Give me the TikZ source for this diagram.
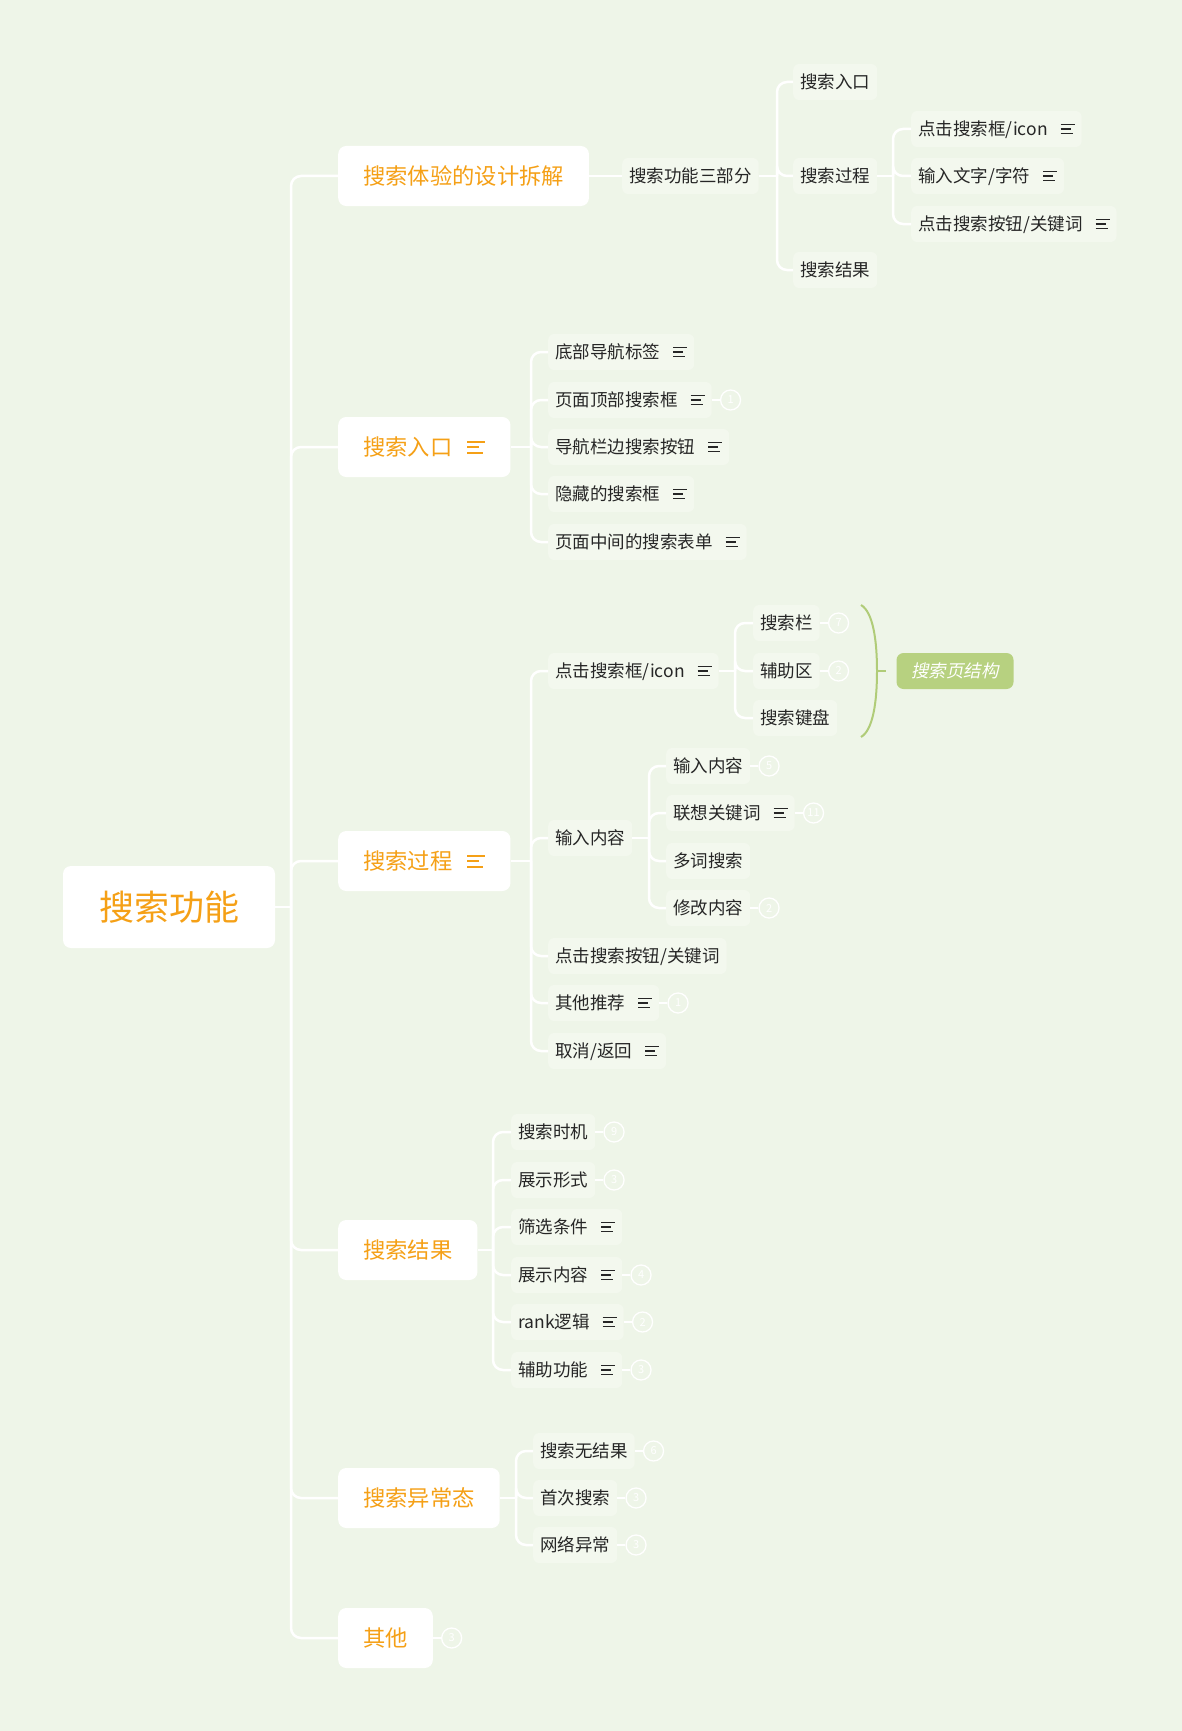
\documentclass[tikz,border=0pt]{standalone}
\usepackage{fontspec}
\setmainfont{Noto Sans CJK SC}
\newfontfamily\slantcjk[FakeSlant=0.2]{Noto Sans CJK SC}
\usetikzlibrary{positioning}

\definecolor{bgcol}{RGB}{238,245,232}
\definecolor{topiccol}{RGB}{245,160,22}
\definecolor{leafcol}{RGB}{243,248,238}
\definecolor{inkcol}{RGB}{38,38,38}
\definecolor{bracecol}{RGB}{176,204,120}
\definecolor{sumcol}{RGB}{183,209,128}

\newcommand{\noteicon}{\hspace{13pt}\raisebox{1.4pt}{\vbox{\hrule width 14pt height 1.4pt \vskip 3pt \hrule width 10pt height 1.4pt \vskip 3pt \hrule width 12pt height 1.4pt}}}
\newcommand{\bignoteicon}{\hspace{15pt}\raisebox{1.6pt}{\vbox{\hrule width 18pt height 2pt \vskip 3.5pt \hrule width 12pt height 2pt \vskip 3.5pt \hrule width 16pt height 2pt}}}

\tikzset{
    rootbox/.style={fill=white, rounded corners=8pt, text=topiccol, font=\fontsize{35}{40}\selectfont,
        minimum width=212pt, minimum height=82pt, inner sep=0pt, text height=30.8pt, text depth=4.2pt},
    topic/.style={anchor=west, fill=white, rounded corners=8pt, text=topiccol, font=\fontsize{22.3}{26}\selectfont,
        minimum height=60pt, inner xsep=25pt, inner ysep=0pt, text height=19.6pt, text depth=2.7pt},
    leaf/.style={anchor=west, fill=leafcol, rounded corners=6pt, text=inkcol, font=\fontsize{17.5}{20}\selectfont,
        minimum height=36pt, inner xsep=7pt, inner ysep=0pt, text height=15.4pt, text depth=2.1pt},
    num/.style={circle, draw=white, text=white, line width=1.3pt, minimum size=20pt, inner sep=0pt,
        font=\fontsize{11}{12}\selectfont},
    summary/.style={fill=sumcol, rounded corners=7pt, text=white, font=\fontsize{17.5}{20}\slantcjk,
        minimum width=117pt, minimum height=36pt, inner sep=0pt, text height=15.4pt, text depth=2.1pt},
    branch/.style={draw=white, line width=2.5pt, rounded corners=10pt},
    tick/.style={draw=white, line width=1.5pt}
}

\begin{document}
\begin{tikzpicture}[x=1pt, y=-1pt]
        \useasboundingbox (0,0) rectangle (1182,1731);
        \fill[bgcol] (0,0) rectangle (1182,1731);

        \node[rootbox] (root) at (169,907) {搜索功能};
        \coordinate (trunk) at (291,907);

        \node[topic] (m1) at (338,176) {搜索体验的设计拆解};
        \node[topic] (m2) at (338,447) {搜索入口\bignoteicon};
        \node[topic] (m3) at (338,861) {搜索过程\bignoteicon};
        \node[topic] (m4) at (338,1250) {搜索结果};
        \node[topic] (m5) at (338,1498) {搜索异常态};
        \node[topic] (m6) at (338,1638) {其他};
        \node[num, right=8pt of m6] (m6n) {3};

        \draw[branch] (root.east) -- (trunk);
        \draw[branch] (trunk) |- (m1.west);
        \draw[branch] (trunk) |- (m2.west);
        \draw[branch] (trunk) |- (m3.west);
        \draw[branch] (trunk) |- (m4.west);
        \draw[branch] (trunk) |- (m5.west);
        \draw[branch] (trunk) |- (m6.west);
        \draw[tick] (m6.east) -- (m6n.west);

        % 搜索体验的设计拆解
        \node[leaf] (b1) at (622,176) {搜索功能三部分};
        \coordinate (s1) at (777,176);
        \node[leaf] (b11) at (793,82) {搜索入口};
        \node[leaf] (b12) at (793,176) {搜索过程};
        \node[leaf] (b13) at (793,270) {搜索结果};
        \coordinate (s12) at (893,176);
        \node[leaf] (b121) at (911,129) {点击搜索框/icon\noteicon};
        \node[leaf] (b122) at (911,176) {输入文字/字符\noteicon};
        \node[leaf] (b123) at (911,224) {点击搜索按钮/关键词\noteicon};

        \draw[branch] (m1.east) -- (b1.west);
        \draw[branch] (b1.east) -- (s1);
        \draw[branch] (s1) |- (b11.west);
        \draw[branch] (s1) |- (b12.west);
        \draw[branch] (s1) |- (b13.west);
        \draw[branch] (b12.east) -- (s12);
        \draw[branch] (s12) |- (b121.west);
        \draw[branch] (s12) |- (b122.west);
        \draw[branch] (s12) |- (b123.west);

        % 搜索入口
        \coordinate (s2) at (531,447);
        \node[leaf] (c21) at (548,352) {底部导航标签\noteicon};
        \node[leaf] (c22) at (548,400) {页面顶部搜索框\noteicon};
        \node[leaf] (c23) at (548,447) {导航栏边搜索按钮\noteicon};
        \node[leaf] (c24) at (548,494) {隐藏的搜索框\noteicon};
        \node[leaf] (c25) at (548,542) {页面中间的搜索表单\noteicon};
        \node[num, right=8pt of c22] (c22n) {1};

        \draw[branch] (m2.east) -- (s2);
        \draw[branch] (s2) |- (c21.west);
        \draw[branch] (s2) |- (c22.west);
        \draw[branch] (s2) |- (c23.west);
        \draw[branch] (s2) |- (c24.west);
        \draw[branch] (s2) |- (c25.west);
        \draw[tick] (c22.east) -- (c22n.west);

        % 搜索过程
        \coordinate (s3) at (531,861);
        \node[leaf] (c31) at (548,671) {点击搜索框/icon\noteicon};
        \node[leaf] (c32) at (548,838) {输入内容};
        \node[leaf] (c33) at (548,956) {点击搜索按钮/关键词};
        \node[leaf] (c34) at (548,1003) {其他推荐\noteicon};
        \node[leaf] (c35) at (548,1051) {取消/返回\noteicon};
        \node[num, right=8pt of c34] (c34n) {1};

        \coordinate (s31) at (735,671);
        \node[leaf] (c311) at (753,623) {搜索栏};
        \node[leaf] (c312) at (753,671) {辅助区};
        \node[leaf] (c313) at (753,718) {搜索键盘};
        \node[num, right=8pt of c311] (c311n) {7};
        \node[num, right=8pt of c312] (c312n) {2};

        \coordinate (s32) at (649,838);
        \node[leaf] (c321) at (666,766) {输入内容};
        \node[leaf] (c322) at (666,813) {联想关键词\noteicon};
        \node[leaf] (c323) at (666,861) {多词搜索};
        \node[leaf] (c324) at (666,908) {修改内容};
        \node[num, right=8pt of c321] (c321n) {5};
        \node[num, right=8pt of c322] (c322n) {11};
        \node[num, right=8pt of c324] (c324n) {2};

        \draw[branch] (m3.east) -- (s3);
        \draw[branch] (s3) |- (c31.west);
        \draw[branch] (s3) |- (c32.west);
        \draw[branch] (s3) |- (c33.west);
        \draw[branch] (s3) |- (c34.west);
        \draw[branch] (s3) |- (c35.west);
        \draw[tick] (c34.east) -- (c34n.west);
        \draw[branch] (c31.east) -- (s31);
        \draw[branch] (s31) |- (c311.west);
        \draw[branch] (s31) |- (c312.west);
        \draw[branch] (s31) |- (c313.west);
        \draw[tick] (c311.east) -- (c311n.west);
        \draw[tick] (c312.east) -- (c312n.west);
        \draw[branch] (c32.east) -- (s32);
        \draw[branch] (s32) |- (c321.west);
        \draw[branch] (s32) |- (c322.west);
        \draw[branch] (s32) |- (c323.west);
        \draw[branch] (s32) |- (c324.west);
        \draw[tick] (c321.east) -- (c321n.west);
        \draw[tick] (c322.east) -- (c322n.west);
        \draw[tick] (c324.east) -- (c324n.west);

        \coordinate (bracetop) at (861,605);
        \coordinate (bracetip) at (877,671);
        \coordinate (bracebot) at (861,737);
        \coordinate (braceend) at (886,671);
        \draw[bracecol, line width=2pt] (bracetop) .. controls (873,612) and (877,640) .. (bracetip)
            .. controls (877,702) and (873,730) .. (bracebot);
        \draw[bracecol, line width=2pt] (bracetip) -- (braceend);
        \node[summary] (sum) at (955,671) {搜索页结构};

        % 搜索结果
        \coordinate (s4) at (493,1250);
        \node[leaf] (c41) at (511,1132) {搜索时机};
        \node[leaf] (c42) at (511,1180) {展示形式};
        \node[leaf] (c43) at (511,1227) {筛选条件\noteicon};
        \node[leaf] (c44) at (511,1275) {展示内容\noteicon};
        \node[leaf] (c45) at (511,1322) {rank逻辑\noteicon};
        \node[leaf] (c46) at (511,1370) {辅助功能\noteicon};
        \node[num, right=8pt of c41] (c41n) {9};
        \node[num, right=8pt of c42] (c42n) {3};
        \node[num, right=8pt of c44] (c44n) {4};
        \node[num, right=8pt of c45] (c45n) {2};
        \node[num, right=8pt of c46] (c46n) {3};

        \draw[branch] (m4.east) -- (s4);
        \draw[branch] (s4) |- (c41.west);
        \draw[branch] (s4) |- (c42.west);
        \draw[branch] (s4) |- (c43.west);
        \draw[branch] (s4) |- (c44.west);
        \draw[branch] (s4) |- (c45.west);
        \draw[branch] (s4) |- (c46.west);
        \draw[tick] (c41.east) -- (c41n.west);
        \draw[tick] (c42.east) -- (c42n.west);
        \draw[tick] (c44.east) -- (c44n.west);
        \draw[tick] (c45.east) -- (c45n.west);
        \draw[tick] (c46.east) -- (c46n.west);

        % 搜索异常态
        \coordinate (s5) at (516,1498);
        \node[leaf] (c51) at (533,1451) {搜索无结果};
        \node[leaf] (c52) at (533,1498) {首次搜索};
        \node[leaf] (c53) at (533,1545) {网络异常};
        \node[num, right=8pt of c51] (c51n) {6};
        \node[num, right=8pt of c52] (c52n) {3};
        \node[num, right=8pt of c53] (c53n) {3};

        \draw[branch] (m5.east) -- (s5);
        \draw[branch] (s5) |- (c51.west);
        \draw[branch] (s5) |- (c52.west);
        \draw[branch] (s5) |- (c53.west);
        \draw[tick] (c51.east) -- (c51n.west);
        \draw[tick] (c52.east) -- (c52n.west);
        \draw[tick] (c53.east) -- (c53n.west);

    \end{tikzpicture}
\end{document}
